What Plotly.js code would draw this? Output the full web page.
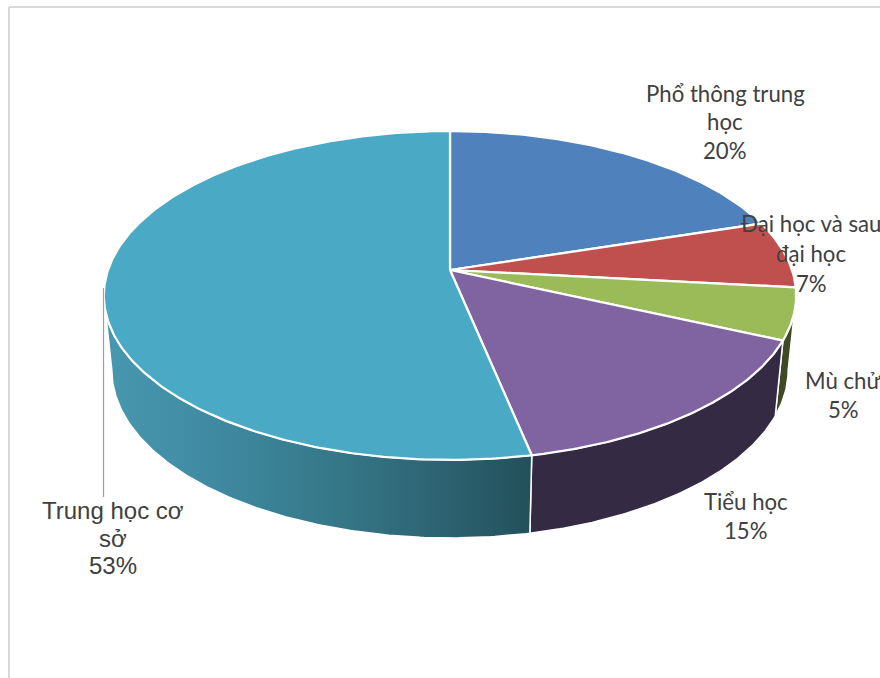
<!DOCTYPE html>
<html>
<head>
<meta charset="utf-8">
<script src="https://cdn.plot.ly/plotly-3.0.1.min.js"></script>
<style>html,body{margin:0;padding:0;background:#fff;overflow:hidden}#chart{width:880px;height:678px}</style>
</head>
<body>
<div id="chart"></div>
<script>
const categories = ["Phổ thông trung học", "Đại học và sau đại học", "Mù chử", "Tiểu học", "Trung học cơ sở"];
const values = [20.1, 6.6, 5.05, 15, 53.25];
const topColors = ["#4f81bd", "#c0504d", "#9bbb59", "#8064a2", "#4aa9c4"];
const sideColors = ["#2f4d71", "#73302e", "#3f4a24", "#352a44", "#2c606e"];
const labelLines = [
  ["Phổ thông trung", "học", "20%"],
  ["Đại học và sau", "đại học", "7%"],
  ["Mù chử", "5%"],
  ["Tiểu học", "15%"],
  ["Trung học cơ", "sở", "53%"]
];
const labelX = [725, 811, 843, 746, 113];
const labelY = [[93, 121, 150], [223, 253, 283], [380, 409], [501, 530], [510, 538, 565]];
const tealGradient = [[0, "#4798b0"], [0.26, "#3f8aa1"], [0.55, "#357788"], [0.82, "#2c606e"], [1, "#22505b"]];

// Projection of the tilted disc
const cx = 450, apexY = 270, k = 0.155, a = 342, b = 160.5;
const topCy = 295.5, topRx = 346, topRy = 164.5;
const botCy = 370, botRx = 338, botRy = 168;

function topPoint(t) {
  const d = 1 + k * Math.cos(t);
  return [cx + a * Math.sin(t) / d, apexY - b * Math.cos(t) / d];
}
function botPoint(t) {
  const p = topPoint(t);
  return [cx + botRx * (p[0] - cx) / topRx, botCy + botRy * (p[1] - topCy) / topRy];
}
function arc(fn, t0, t1) {
  const n = Math.max(2, Math.ceil(Math.abs(t1 - t0) / 0.01));
  const pts = [];
  for (let i = 0; i <= n; i++) pts.push(fn(t0 + (t1 - t0) * i / n));
  return pts;
}

const total = values.reduce((s, v) => s + v, 0);
const tanA = Math.acos(-k), tanB = 2 * Math.PI - tanA;
const sideTraces = [], topTraces = [];
let cum = 0;
values.forEach((v, i) => {
  const t0 = cum / total * 2 * Math.PI;
  cum += v;
  const t1 = cum / total * 2 * Math.PI;
  const pts = [[cx, apexY]].concat(arc(topPoint, t0, t1), [[cx, apexY]]);
  topTraces.push({
    type: "scatter", mode: "lines", name: categories[i],
    x: pts.map(p => p[0]), y: pts.map(p => p[1]),
    fill: "toself", fillcolor: topColors[i],
    line: {color: "#ffffff", width: 2.25}, hoverinfo: "skip"
  });
  const s0 = Math.max(t0, tanA), s1 = Math.min(t1, tanB);
  if (s1 > s0) {
    const wall = arc(topPoint, s0, s1).concat(arc(botPoint, s1, s0));
    wall.push(wall[0]);
    const tr = {
      type: "scatter", mode: "lines", name: categories[i] + " side",
      x: wall.map(p => p[0]), y: wall.map(p => p[1]),
      fill: "toself", fillcolor: sideColors[i],
      line: {color: "#ffffff", width: 1.5}, hoverinfo: "skip"
    };
    if (i === values.length - 1) tr.fillgradient = {type: "horizontal", colorscale: tealGradient};
    sideTraces.push(tr);
  }
});

const annotations = [];
labelLines.forEach((lines, i) => {
  const big = i === 4;
  lines.forEach((txt, j) => annotations.push({
    x: labelX[i], y: labelY[i][j], xref: "x", yref: "y", text: txt, showarrow: false,
    xanchor: "center", yanchor: "middle",
    font: big ? {family: "Liberation Sans, Arial, sans-serif", size: 24, color: "#404040"}
              : {family: "Lato, Open Sans, sans-serif", size: 22.2, color: "#404040"}
  }));
});

Plotly.newPlot("chart", sideTraces.concat(topTraces), {
  width: 880, height: 678,
  margin: {l: 0, r: 0, t: 0, b: 0},
  paper_bgcolor: "#ffffff", plot_bgcolor: "#ffffff",
  showlegend: false,
  xaxis: {range: [0, 880], visible: false, fixedrange: true},
  yaxis: {range: [678, 0], visible: false, fixedrange: true},
  annotations: annotations,
  shapes: [
    {type: "line", x0: 9, x1: 9, y0: 7, y1: 678, line: {color: "#d9d9d9", width: 2}},
    {type: "line", x0: 9, x1: 880, y0: 7, y1: 7, line: {color: "#d9d9d9", width: 2}},
    {type: "line", x0: 103.5, x1: 103.5, y0: 288, y1: 497, line: {color: "#a0a0a0", width: 1.25}}
  ]
}, {staticPlot: true, displayModeBar: false});
</script>
</body>
</html>
